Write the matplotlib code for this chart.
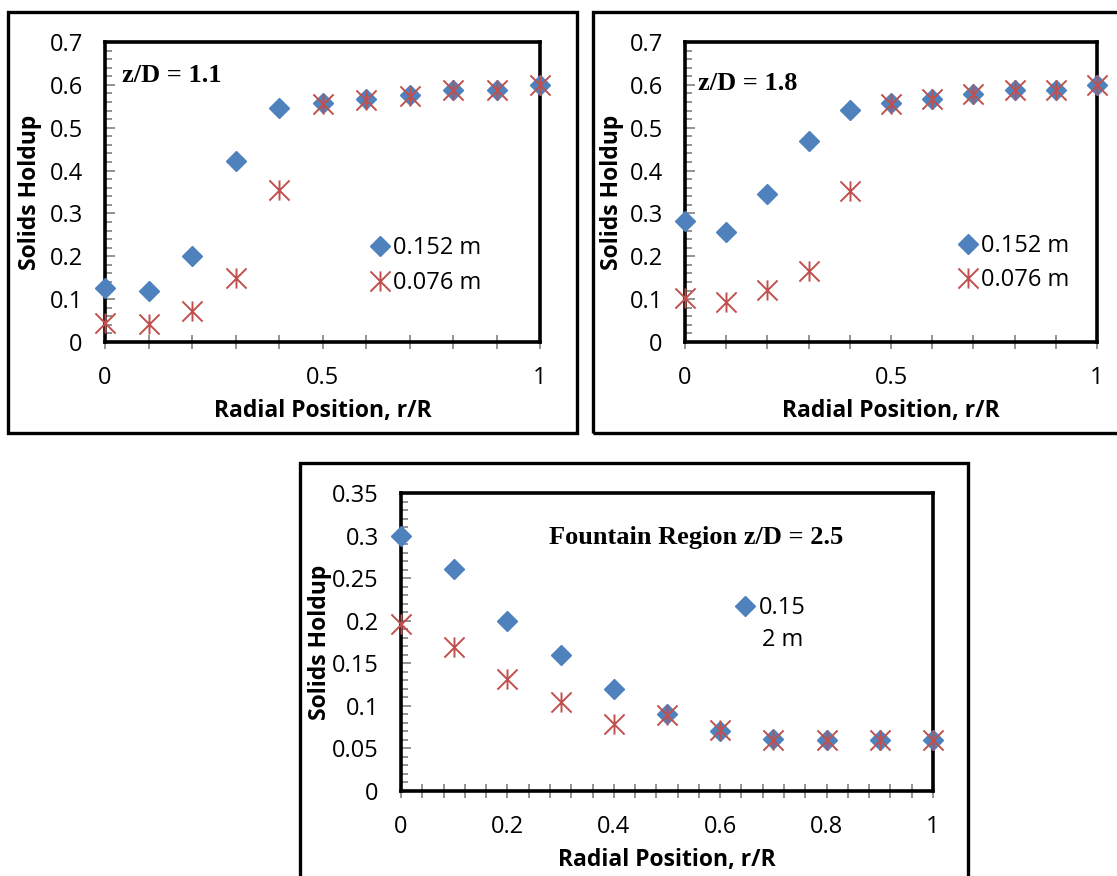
import numpy as np
import matplotlib
matplotlib.use("Agg")
import matplotlib.pyplot as plt
from matplotlib.path import Path
from matplotlib.patches import Rectangle
from matplotlib.ticker import MultipleLocator, FuncFormatter
from matplotlib.lines import Line2D

# ---- data ----
r_over_R = [0.0, 0.1, 0.2, 0.3, 0.4, 0.5, 0.6, 0.7, 0.8, 0.9, 1.0]

# z/D = 1.1
holdup_11_152 = [0.126, 0.118, 0.200, 0.423, 0.545, 0.557, 0.566, 0.577, 0.587, 0.587, 0.599]
holdup_11_076 = [0.044, 0.042, 0.072, 0.149, 0.355, 0.555, 0.565, 0.575, 0.587, 0.587, 0.599]

# z/D = 1.8
holdup_18_152 = [0.282, 0.257, 0.345, 0.469, 0.541, 0.558, 0.567, 0.579, 0.588, 0.588, 0.600]
holdup_18_076 = [0.103, 0.093, 0.121, 0.166, 0.352, 0.556, 0.566, 0.578, 0.588, 0.588, 0.600]

# fountain region z/D = 2.5
holdup_25_152 = [0.300, 0.261, 0.200, 0.160, 0.120, 0.091, 0.070, 0.061, 0.060, 0.060, 0.060]
holdup_25_076 = [0.196, 0.169, 0.132, 0.105, 0.079, 0.089, 0.072, 0.060, 0.060, 0.060, 0.060]

labels_series = ["0.152 m", "0.076 m"]

BLUE = "#4F81BD"
RED = "#C0504D"
SANS = ["Open Sans", "DejaVu Sans"]
SERIF = ["Liberation Serif", "DejaVu Serif"]
TICK_FS = 17
LABEL_FS = 16.5

# six-armed asterisk marker
star = Path([(-1, -1), (1, 1), (-1, 1), (1, -1), (0, -1), (0, 1)],
            [Path.MOVETO, Path.LINETO, Path.MOVETO, Path.LINETO, Path.MOVETO, Path.LINETO])

W, H = 1117, 876
fig = plt.figure(figsize=(W / 100, H / 100), dpi=100)
fig.patch.set_facecolor("white")


def px_axes(left, top, right, bottom):
    return fig.add_axes([left / W, 1 - bottom / H, (right - left) / W, (bottom - top) / H])


def frame(left, top, right, bottom):
    fig.patches.append(Rectangle((left / W, 1 - bottom / H), (right - left) / W, (bottom - top) / H,
                                 transform=fig.transFigure, fill=False, edgecolor="black",
                                 linewidth=2.4, zorder=0))


def fmt(v, pos):
    return f"{v:.2f}".rstrip("0").rstrip(".")


def style_axes(ax, ymax, ymaj, ymin, xmaj, xmin):
    ax.set_xlim(0, 1)
    ax.set_ylim(0, ymax)
    for s in ax.spines.values():
        s.set_linewidth(2.6)
        s.set_color("black")
    ax.xaxis.set_major_locator(MultipleLocator(xmaj))
    ax.xaxis.set_minor_locator(MultipleLocator(xmin))
    ax.yaxis.set_major_locator(MultipleLocator(ymaj))
    ax.yaxis.set_minor_locator(MultipleLocator(ymin))
    ax.xaxis.set_major_formatter(FuncFormatter(fmt))
    ax.yaxis.set_major_formatter(FuncFormatter(fmt))
    ax.tick_params(axis="y", which="both", direction="in", color="#808080", width=1.2)
    ax.tick_params(axis="y", which="major", length=7, pad=16)
    ax.tick_params(axis="y", which="minor", length=5)
    ax.tick_params(axis="x", which="both", direction="inout", color="#808080", width=1.2)
    ax.tick_params(axis="x", which="major", length=10, pad=12)
    ax.tick_params(axis="x", which="minor", length=10)
    for lab in ax.get_xticklabels() + ax.get_yticklabels():
        lab.set_fontfamily(SANS)
        lab.set_fontsize(TICK_FS)


def draw_series(ax, y152, y076):
    ax.plot(r_over_R, y152, linestyle="none", marker="D", markersize=10.5,
            color=BLUE, markeredgecolor=BLUE, clip_on=False, zorder=3, label=labels_series[0])
    ax.plot(r_over_R, y076, linestyle="none", marker=star, markersize=14.5,
            markerfacecolor="none", markeredgecolor=RED, markeredgewidth=1.4,
            clip_on=False, zorder=4, label=labels_series[1])


def add_labels(ax, ylabel_x, xpad):
    ax.set_xlabel("Radial Position, r/R", fontfamily=SANS, fontweight="bold",
                  fontsize=LABEL_FS, labelpad=xpad)
    ax.set_ylabel("Solids Holdup", fontfamily=SANS, fontweight="bold", fontsize=LABEL_FS)
    ax.yaxis.set_label_coords(ylabel_x, 0.5)


def add_legend(ax, handles, labels, x, y):
    ax.legend(handles, labels, loc="center left", bbox_to_anchor=(x, y), frameon=False,
              prop={"family": SANS, "size": TICK_FS}, handlelength=0.7, handletextpad=0.2,
              borderpad=0, borderaxespad=0, labelspacing=0.45)


# ---- panel z/D = 1.1 ----
frame(8, 12, 577, 433)
ax1 = px_axes(105, 42, 540, 342)
draw_series(ax1, holdup_11_152, holdup_11_076)
style_axes(ax1, 0.7, 0.1, 0.02, 0.5, 0.1)
add_labels(ax1, -0.145, 7)
ax1.text(0.039, 0.887, "z/D = 1.1", transform=ax1.transAxes, fontfamily=SERIF,
         fontweight="bold", fontsize=19, va="center", ha="left")
h, l = ax1.get_legend_handles_labels()
add_legend(ax1, h, l, 0.613, 0.255)

# ---- panel z/D = 1.8 ----
frame(593, 12, 1125, 433)
ax2 = px_axes(685, 42, 1097, 342)
draw_series(ax2, holdup_18_152, holdup_18_076)
style_axes(ax2, 0.7, 0.1, 0.02, 0.5, 0.1)
add_labels(ax2, -0.148, 7)
ax2.text(0.032, 0.86, "z/D = 1.8", transform=ax2.transAxes, fontfamily=SERIF,
         fontweight="bold", fontsize=19, va="center", ha="left")
h, l = ax2.get_legend_handles_labels()
add_legend(ax2, h, l, 0.667, 0.263)

# ---- fountain region ----
frame(300, 463, 968, 885)
ax3 = px_axes(401, 493, 933, 791)
draw_series(ax3, holdup_25_152, holdup_25_076)
style_axes(ax3, 0.35, 0.05, 0.01, 0.2, 0.04)
add_labels(ax3, -0.13, 7)
ax3.text(0.555, 0.852, "Fountain Region z/D = 2.5", transform=ax3.transAxes,
         fontfamily=SERIF, fontweight="bold", fontsize=19, va="center", ha="center")
h152 = Line2D([], [], linestyle="none", marker="D", markersize=10.5, color=BLUE)
add_legend(ax3, [h152], ["0.15"], 0.632, 0.614)
ax3.text(0.679, 0.507, "2 m", transform=ax3.transAxes, fontfamily=SANS, fontsize=TICK_FS,
         va="center", ha="left")

fig.savefig("out.png", dpi=100, facecolor="white")
